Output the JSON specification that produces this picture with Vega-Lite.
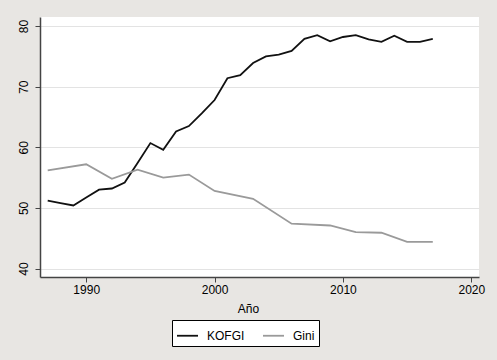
{
  "$schema": "https://vega.github.io/schema/vega-lite/v6.json",
  "width": 439,
  "height": 260,
  "autosize": {"type": "none"},
  "padding": {"left": 40, "top": 17, "right": 18, "bottom": 83},
  "background": "#e8e6e3",
  "config": {
    "view": {"fill": "white", "stroke": null},
    "font": "Liberation Sans"
  },
  "data": {
    "values": [
      {"year": 1987, "serie": "KOFGI", "value": 51.2},
      {"year": 1988, "serie": "KOFGI", "value": 50.8},
      {"year": 1989, "serie": "KOFGI", "value": 50.4},
      {"year": 1990, "serie": "KOFGI", "value": 51.7},
      {"year": 1991, "serie": "KOFGI", "value": 53.0},
      {"year": 1992, "serie": "KOFGI", "value": 53.2},
      {"year": 1993, "serie": "KOFGI", "value": 54.2},
      {"year": 1994, "serie": "KOFGI", "value": 57.4},
      {"year": 1995, "serie": "KOFGI", "value": 60.7},
      {"year": 1996, "serie": "KOFGI", "value": 59.6},
      {"year": 1997, "serie": "KOFGI", "value": 62.6},
      {"year": 1998, "serie": "KOFGI", "value": 63.5},
      {"year": 1999, "serie": "KOFGI", "value": 65.6},
      {"year": 2000, "serie": "KOFGI", "value": 67.8},
      {"year": 2001, "serie": "KOFGI", "value": 71.4},
      {"year": 2002, "serie": "KOFGI", "value": 71.9},
      {"year": 2003, "serie": "KOFGI", "value": 73.9},
      {"year": 2004, "serie": "KOFGI", "value": 75.0},
      {"year": 2005, "serie": "KOFGI", "value": 75.3},
      {"year": 2006, "serie": "KOFGI", "value": 75.9},
      {"year": 2007, "serie": "KOFGI", "value": 77.9},
      {"year": 2008, "serie": "KOFGI", "value": 78.5},
      {"year": 2009, "serie": "KOFGI", "value": 77.5},
      {"year": 2010, "serie": "KOFGI", "value": 78.2},
      {"year": 2011, "serie": "KOFGI", "value": 78.5},
      {"year": 2012, "serie": "KOFGI", "value": 77.8},
      {"year": 2013, "serie": "KOFGI", "value": 77.4},
      {"year": 2014, "serie": "KOFGI", "value": 78.4},
      {"year": 2015, "serie": "KOFGI", "value": 77.4},
      {"year": 2016, "serie": "KOFGI", "value": 77.4},
      {"year": 2017, "serie": "KOFGI", "value": 77.9},
      {"year": 1987, "serie": "Gini", "value": 56.2},
      {"year": 1990, "serie": "Gini", "value": 57.2},
      {"year": 1992, "serie": "Gini", "value": 54.8},
      {"year": 1994, "serie": "Gini", "value": 56.3},
      {"year": 1996, "serie": "Gini", "value": 55.0},
      {"year": 1998, "serie": "Gini", "value": 55.5},
      {"year": 2000, "serie": "Gini", "value": 52.8},
      {"year": 2003, "serie": "Gini", "value": 51.5},
      {"year": 2006, "serie": "Gini", "value": 47.4},
      {"year": 2009, "serie": "Gini", "value": 47.1},
      {"year": 2011, "serie": "Gini", "value": 46.0},
      {"year": 2013, "serie": "Gini", "value": 45.9},
      {"year": 2015, "serie": "Gini", "value": 44.4},
      {"year": 2017, "serie": "Gini", "value": 44.4}
    ]
  },
  "mark": {"type": "line", "strokeWidth": 1.8},
  "encoding": {
    "x": {
      "field": "year",
      "type": "quantitative",
      "scale": {"domain": [1986.4, 2020.6], "nice": false, "zero": false},
      "axis": {
        "title": "Año",
        "values": [1990, 2000, 2010, 2020],
        "format": "d",
        "grid": false,
        "domainColor": "#444",
        "domainWidth": 1.5,
        "tickColor": "#444",
        "tickSize": 5,
        "labelFontSize": 12,
        "labelColor": "black",
        "labelPadding": 2,
        "titleFontSize": 12,
        "titleFontWeight": "normal",
        "titleColor": "black",
        "titleX": 208,
        "titleY": 35,
        "titleBaseline": "alphabetic"
      }
    },
    "y": {
      "field": "value",
      "type": "quantitative",
      "scale": {"domain": [38.6, 81.5], "nice": false, "zero": false},
      "axis": {
        "title": null,
        "values": [40, 50, 60, 70, 80],
        "grid": true,
        "gridColor": "#e3e3e3",
        "gridWidth": 1.2,
        "domainColor": "#444",
        "domainWidth": 1.5,
        "tickColor": "#444",
        "tickSize": 5,
        "labelAngle": -90,
        "labelAlign": "center",
        "labelBaseline": "bottom",
        "labelFontSize": 12,
        "labelColor": "black",
        "labelPadding": 5
      }
    },
    "color": {
      "field": "serie",
      "type": "nominal",
      "sort": ["KOFGI", "Gini"],
      "scale": {"domain": ["KOFGI", "Gini"], "range": ["#111111", "#9a9a9a"]},
      "legend": {
        "title": null,
        "orient": "none",
        "direction": "horizontal",
        "legendX": 132,
        "legendY": 303,
        "fillColor": "white",
        "strokeColor": "black",
        "padding": 4,
        "symbolType": "stroke",
        "symbolSize": 441,
        "symbolStrokeWidth": 1.8,
        "labelFontSize": 12,
        "labelColor": "black",
        "columnPadding": 14,
        "labelOffset": 8
      }
    }
  }
}
